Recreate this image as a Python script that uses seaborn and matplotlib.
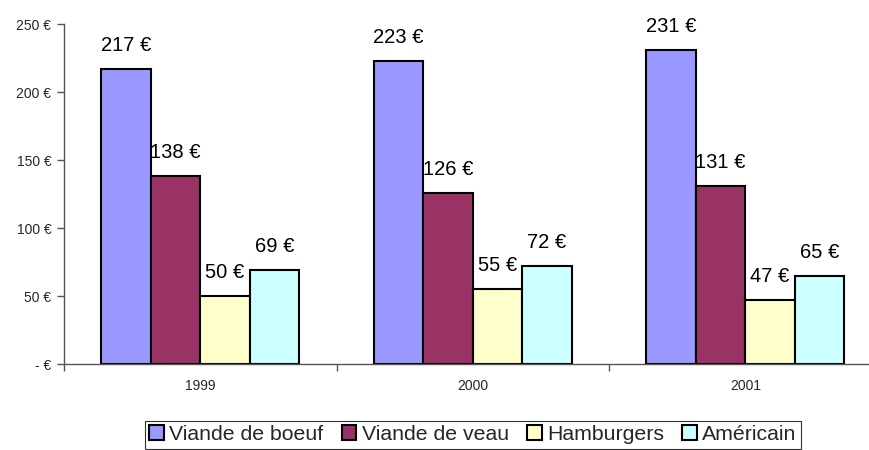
import pandas as pd
import matplotlib
matplotlib.use("Agg")
import matplotlib.pyplot as plt
from matplotlib.ticker import FuncFormatter, FixedLocator
from matplotlib.patches import Patch
import seaborn as sns

# --- données ---
annees = ["1999", "2000", "2001"]
produits = ["Viande de boeuf", "Viande de veau", "Hamburgers", "Américain"]
boeuf = [217, 223, 231]
veau = [138, 126, 131]
hamburgers = [50, 55, 47]
americain = [69, 72, 65]
couleurs = ["#9999FF", "#993366", "#FFFFCC", "#CCFFFF"]

series = [boeuf, veau, hamburgers, americain]
df = pd.DataFrame([
    {"annee": a, "produit": p, "prix": v}
    for p, vals in zip(produits, series)
    for a, v in zip(annees, vals)
])

sns.set_theme(style="white")
plt.rcParams["font.family"] = ["Liberation Sans", "DejaVu Sans"]

fig = plt.figure(figsize=(8.69, 4.5), dpi=100)
ax = fig.add_axes([64 / 869, 1 - 364 / 450, 805 / 869, 340 / 450])

sns.barplot(data=df, x="annee", y="prix", hue="produit", hue_order=produits,
            palette=couleurs, width=0.727, gap=0, saturation=1,
            edgecolor="black", linewidth=1.5, ax=ax, legend=False)

for cont in ax.containers:
    ax.bar_label(cont, labels=[f"{v:.0f} €" for v in cont.datavalues],
                 padding=10, fontsize=14.5, color="black")

ax.set_ylim(0, 250)
ax.set_xlim(-0.5, 2.454)
ax.set_yticks(range(0, 251, 50))
ax.yaxis.set_major_formatter(FuncFormatter(lambda v, p: "- €" if v == 0 else f"{v:.0f} €"))
ax.xaxis.set_minor_locator(FixedLocator([-0.5, 0.5, 1.5, 2.5]))
ax.tick_params(axis="x", which="major", length=0, pad=11, labelsize=10)
ax.tick_params(axis="x", which="minor", length=5, width=1, color="#555555", direction="out", bottom=True)
ax.tick_params(axis="y", length=5, width=1, color="#555555", direction="out", left=True, labelsize=10, pad=4)
ax.set_xlabel("")
ax.set_ylabel("")
for s in ["top", "right"]:
    ax.spines[s].set_visible(False)
for s in ["left", "bottom"]:
    ax.spines[s].set_color("#555555")
    ax.spines[s].set_linewidth(1)

handles = [Patch(facecolor=c, edgecolor="black", linewidth=1.5) for c in couleurs]
leg = fig.legend(handles, produits, loc="upper center", bbox_to_anchor=(473 / 869, 1 - 421 / 450),
                 ncol=4, frameon=True, fancybox=False, fontsize=15.3,
                 handlelength=0.7, handleheight=0.7, handletextpad=0.25, columnspacing=0.85,
                 borderpad=0.2, borderaxespad=0)
leg.get_frame().set_edgecolor("black")
leg.get_frame().set_linewidth(0.8)

fig.savefig("out.png", dpi=100)
